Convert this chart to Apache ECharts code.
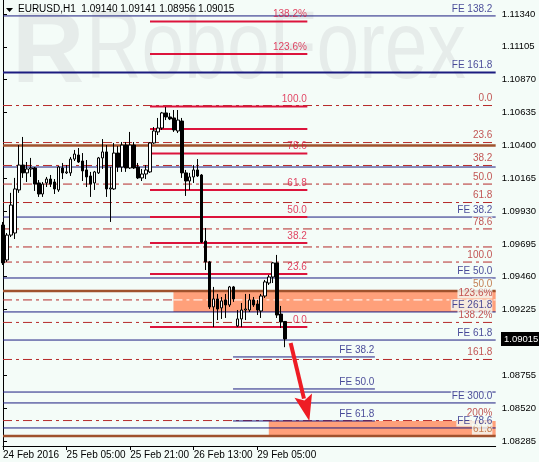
<!DOCTYPE html>
<html><head><meta charset="utf-8">
<script src="https://cdn.jsdelivr.net/npm/echarts@6/dist/echarts.min.js"></script>
<style>html,body{margin:0;padding:0;background:#f4fcf8}#c{width:539px;height:462px}</style>
</head><body><div id="c"></div>
<script>
// ---- data ----
const tickLabels = ["24 Feb 2016", "25 Feb 05:00", "25 Feb 21:00", "26 Feb 13:00", "29 Feb 05:00"];
const tickIndex = [0, 16, 32, 48, 64];
const slotCount = 125;

const opens = [1.09830,1.09580,1.09758,1.09773,1.10081,1.10259,1.10203,1.10231,1.10238,1.10131,1.10052,1.10131,1.10159,1.10138,1.10081,1.10238,1.10203,1.10203,1.10302,1.10331,1.10288,1.10224,1.10181,1.10131,1.10203,1.10310,1.10353,1.10088,1.10088,1.10345,1.10245,1.10402,1.10238,1.10402,1.10245,1.10167,1.10195,1.10210,1.10417,1.10496,1.10524,1.10632,1.10603,1.10596,1.10503,1.10574,1.10203,1.10145,1.10174,1.10224,1.10188,1.09715,1.09566,1.09244,1.09301,1.09237,1.09294,1.09258,1.09387,1.09108,1.09158,1.09222,1.09222,1.09294,1.09265,1.09215,1.09322,1.09415,1.09458,1.09559,1.09193,1.09140];
const closes = [1.09559,1.09758,1.09973,1.10088,1.10259,1.10203,1.10231,1.10238,1.10123,1.10052,1.10123,1.10159,1.10123,1.10088,1.10245,1.10203,1.10210,1.10302,1.10338,1.10281,1.10217,1.10174,1.10123,1.10210,1.10310,1.10353,1.10088,1.10095,1.10345,1.10245,1.10402,1.10238,1.10402,1.10238,1.10167,1.10195,1.10224,1.10417,1.10503,1.10524,1.10632,1.10603,1.10589,1.10510,1.10581,1.10203,1.10145,1.10174,1.10224,1.10181,1.09708,1.09566,1.09244,1.09301,1.09229,1.09287,1.09258,1.09387,1.09301,1.09158,1.09222,1.09229,1.09294,1.09258,1.09222,1.09322,1.09423,1.09458,1.09559,1.09186,1.09136,1.09015];
const lows = [1.09544,1.09566,1.09744,1.09730,1.10060,1.10167,1.10138,1.10174,1.10074,1.10031,1.10031,1.10102,1.10102,1.10052,1.10067,1.10159,1.10195,1.10181,1.10288,1.10274,1.10145,1.10102,1.10031,1.10081,1.10195,1.10231,1.10031,1.09852,1.10081,1.10210,1.10210,1.10210,1.10231,1.10231,1.10159,1.10145,1.10159,1.10203,1.10410,1.10474,1.10510,1.10581,1.10581,1.10496,1.10488,1.10167,1.10038,1.10081,1.10131,1.10174,1.09701,1.09508,1.09229,1.09100,1.09150,1.09158,1.09165,1.09244,1.09280,1.09100,1.09100,1.09150,1.09208,1.09244,1.09186,1.09165,1.09308,1.09401,1.09415,1.09165,1.09093,1.08956];
const highs = [1.09852,1.09773,1.10060,1.10167,1.10402,1.10460,1.10281,1.10310,1.10245,1.10152,1.10138,1.10174,1.10188,1.10159,1.10252,1.10274,1.10259,1.10317,1.10367,1.10381,1.10345,1.10295,1.10210,1.10217,1.10317,1.10445,1.10402,1.10245,1.10417,1.10395,1.10424,1.10424,1.10496,1.10424,1.10274,1.10231,1.10259,1.10424,1.10531,1.10596,1.10639,1.10674,1.10632,1.10653,1.10653,1.10596,1.10224,1.10203,1.10259,1.10302,1.10195,1.09809,1.09573,1.09387,1.09337,1.09315,1.09337,1.09394,1.09394,1.09222,1.09272,1.09337,1.09337,1.09315,1.09294,1.09337,1.09437,1.09473,1.09566,1.09616,1.09251,1.09141];

const header = "EURUSD,H1  1.09140 1.09141 1.08956 1.09015";
const lastPrice = 1.09015;
const priceTicks = [1.11340,1.11105,1.10870,1.10635,1.10400,1.10165,1.09930,1.09695,1.09460,1.09225,1.08755,1.08520,1.08285];

const feFullLevels = [1.11326,1.10922,1.10245,1.09887,1.09451,1.09208,1.09007,1.08635,1.08557,1.08378];
const feFullLabels = ["FE 138.2","FE 161.8","","FE 38.2","FE 50.0","FE 261.8","FE 61.8","","FE 300.0","FE 78.6"];

const feShortLevels = [1.08886,1.08657,1.08428];
const feShortLabels = ["FE 38.2","FE 50.0","FE 61.8"];
const feShortSpan = [57.9, 93.6];

const fibDashLevels = [1.10685,1.10420,1.10256,1.10123,1.09991,1.09802,1.09673,1.09565,1.09294,1.09133,1.08868,1.08431];
const fibDashLabels = ["0.0","23.6","38.2","50.0","61.8","78.6","","100.0","123.6%","138.2%","161.8","200%"];

const fibRedLevels = [1.11286,1.11054,1.10678,1.10517,1.10342,1.10081,1.09887,1.09701,1.09480,1.09100];
const fibRedLabels = ["138.2%","123.6%","100.0","","78.6","61.8","50.0","38.2","23.6","0.0"];
const fibRedSpan = [37, 76.6];

const brownLevels = [1.10399,1.09358,1.08320];
const brownLabels = ["","50.0","61.8"];

const zones = [[42.9, 1.09358, 124, 1.09208], [66.9, 1.08428, 124, 1.08320]];
const arrowPath = [72.4, 1.08986, 77.1, 1.08428];

// ---- chart ----
const BG = '#f4fcf8';
const NAVY = '#1c1c80', DARKRED = '#b52a2a', CRIMSON = '#dc143c', BROWN = '#a0522d';
const FAM = 'Liberation Sans';
const chart = echarts.init(document.getElementById('c'), null, {renderer: 'canvas'});
const cats = Array.from({length: slotCount}, (_, i) => String(i));
const labelEnd = 123.3;

const series = [];
function hline(x1, x2, y, ls, z) {
  series.push({type: 'line', xAxisIndex: 1, yAxisIndex: 0, data: [[x1, y], [x2, y]], symbol: 'none',
    lineStyle: ls, silent: true, z: z, animation: false});
}
const labelItems = [];
function addLabel(x, y, text, color, bg) {
  if (!text) return;
  labelItems.push({value: [x, y], label: {show: true, formatter: text, color: color,
    position: [0, -1], align: 'right', verticalAlign: 'bottom', fontSize: 10, fontFamily: FAM,
    backgroundColor: bg ? BG : 'transparent', padding: [0, 0, 0, 1], lineHeight: 11}});
}

series.push({type: 'custom', xAxisIndex: 1, yAxisIndex: 0, z: 1, silent: true, animation: false,
  data: zones, encode: {x: [0, 2], y: [1, 3]},
  renderItem: function (p, api) {
    const a = api.coord([api.value(0), api.value(1)]);
    const b = api.coord([api.value(2), api.value(3)]);
    return {type: 'rect', shape: {x: a[0], y: a[1], width: b[0] - a[0], height: b[1] - a[1]}, style: {fill: '#ffa07a'}};
  }});

const dashDot = [9, 4, 3, 4];
fibDashLevels.forEach((v, i) => {
  if (fibDashLabels[i] === '123.6%') {
    hline(0, zones[0][0], v, {color: DARKRED, width: 1, type: dashDot}, 2);
    hline(zones[0][0], 124, v, {color: '#ffffff', width: 1, type: dashDot}, 2);
  } else {
    hline(0, 124, v, {color: DARKRED, width: 1, type: dashDot}, 2);
  }
  addLabel(labelEnd, v, fibDashLabels[i], DARKRED, true);
});
brownLevels.forEach((v, i) => {
  hline(0, 124, v, {color: BROWN, width: 2.5}, 2);
  addLabel(labelEnd, v, brownLabels[i], '#b8602a', true);
});
feFullLevels.forEach((v, i) => {
  hline(0, 124, v, {color: NAVY, width: feFullLabels[i] === 'FE 161.8' ? 2 : 1}, 3);
  addLabel(labelEnd, v, feFullLabels[i], NAVY, true);
});
feShortLevels.forEach((v, i) => {
  hline(feShortSpan[0], feShortSpan[1], v, {color: NAVY, width: 1}, 3);
  addLabel(feShortSpan[1], v, feShortLabels[i], NAVY, false);
});
fibRedLevels.forEach((v, i) => {
  hline(fibRedSpan[0], fibRedSpan[1], v, {color: CRIMSON, width: 2}, 3);
  addLabel(fibRedSpan[1], v, fibRedLabels[i], CRIMSON, false);
});

series.push({type: 'candlestick', xAxisIndex: 0, yAxisIndex: 0, z: 5, barWidth: 3, animation: false, silent: true,
  data: opens.map((o, i) => [o, closes[i], lows[i], highs[i]]),
  itemStyle: {color: '#ffffff', color0: '#000000', borderColor: '#000000', borderColor0: '#000000', borderWidth: 1}});

series.push({type: 'scatter', xAxisIndex: 1, yAxisIndex: 0, z: 6, symbolSize: 1, silent: true, animation: false,
  itemStyle: {color: 'transparent'}, data: labelItems});

series.push({type: 'custom', xAxisIndex: 1, yAxisIndex: 0, z: 7, silent: true, animation: false,
  data: [arrowPath], encode: {x: [0, 2], y: [1, 3]},
  renderItem: function (p, api) {
    const a = api.coord([api.value(0), api.value(1)]);
    const b = api.coord([api.value(2), api.value(3)]);
    const dx = b[0] - a[0], dy = b[1] - a[1], L = Math.hypot(dx, dy);
    const ux = dx / L, uy = dy / L, px = -uy, py = ux;
    const hl = 26, hw = 9;
    const base = [b[0] - ux * hl, b[1] - uy * hl];
    return {type: 'group', children: [
      {type: 'line', shape: {x1: a[0], y1: a[1], x2: base[0] + ux * 3, y2: base[1] + uy * 3}, style: {stroke: '#ee1c24', lineWidth: 4}},
      {type: 'polygon', shape: {points: [b, [base[0] + px * hw, base[1] + py * hw], [base[0] + ux * 5, base[1] + uy * 5], [base[0] - px * hw, base[1] - py * hw]]}, style: {fill: '#ee1c24'}}
    ]};
  }});

const yMin = 1.082489, yMax = 1.11440;
chart.setOption({
  backgroundColor: BG,
  animation: false,
  grid: {left: 3, right: 39, top: 0, bottom: 16},
  xAxis: [
    {type: 'category', data: cats, boundaryGap: false,
      axisLine: {show: true, lineStyle: {color: '#000', width: 1}},
      axisTick: {show: true, length: 4, interval: (i) => tickIndex.includes(i), lineStyle: {color: '#000'}},
      axisLabel: {interval: (i) => tickIndex.includes(i), formatter: (v, i) => tickLabels[tickIndex.indexOf(i)] || '',
        align: 'left', margin: 4, color: '#000', fontSize: 10, fontFamily: FAM},
      splitLine: {show: false}},
    {type: 'value', min: 0, max: slotCount - 1, show: false}
  ],
  yAxis: [
    {type: 'value', position: 'right', min: yMin, max: yMax, scale: true,
      axisLine: {show: true, lineStyle: {color: '#000', width: 1}},
      axisTick: {show: true, length: 4, customValues: priceTicks, lineStyle: {color: '#000'}},
      axisLabel: {customValues: priceTicks, formatter: (v) => v.toFixed(5), margin: 6, color: '#000', fontSize: 9.5, fontFamily: FAM},
      splitLine: {show: false}},
    {type: 'value', position: 'left', min: yMin, max: yMax,
      axisLine: {show: true, lineStyle: {color: '#000', width: 1}}, axisTick: {show: false}, axisLabel: {show: false}, splitLine: {show: false}}
  ],
  series: series
});

const py = chart.convertToPixel({yAxisIndex: 0}, lastPrice);
chart.setOption({graphic: [
  {type: 'text', x: 12, y: 4, z: -10, silent: true, style: {text: 'R', fontSize: 100, fontWeight: 'bold', fontFamily: FAM, fill: '#e6ecea'}},
  {type: 'text', x: 86, y: 4, z: -10, scaleX: 0.8, silent: true, style: {text: 'RoboForex', fontSize: 96, fontFamily: FAM, fill: '#e6ecea'}},
  {type: 'polygon', z: 10, shape: {points: [[6, 8], [13, 8], [9.5, 12]]}, style: {fill: '#000'}},
  {type: 'text', x: 18, y: 4, z: 10, style: {text: header, fontSize: 10, fontFamily: FAM, fill: '#000'}},
  {type: 'rect', z: 10, shape: {x: 501, y: py - 7, width: 38, height: 14}, style: {fill: '#000'}},
  {type: 'text', z: 11, x: 504, y: py, style: {text: lastPrice.toFixed(5), fontSize: 9.5, fontFamily: FAM, fill: '#fff', verticalAlign: 'middle'}}
]});
</script></body></html>
